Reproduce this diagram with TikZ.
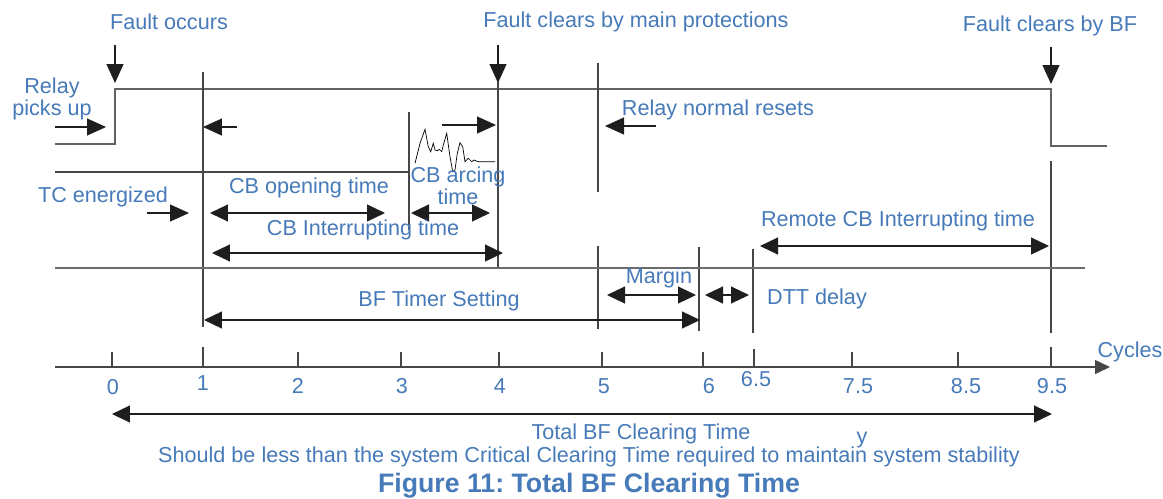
\documentclass[tikz,border=0pt]{standalone}
\usepackage{fontspec}
\setmainfont{Liberation Sans}
\usetikzlibrary{arrows.meta}
\definecolor{txtblue}{RGB}{70,122,184}
\definecolor{linegray}{RGB}{70,70,70}
\definecolor{tipblack}{RGB}{30,30,30}
\frenchspacing

\begin{document}
\begin{tikzpicture}[x=0.02cm,y=-0.02cm,
        lbl/.style={text=txtblue,font=\fontsize{12.3}{12.5}\selectfont,inner sep=0pt,align=center},
        sig/.style={draw=linegray,line width=0.6pt},
        tip/.style={draw=tipblack,line width=0.6pt,-{Triangle[length=0.38cm,width=0.34cm]}},
        both/.style={draw=tipblack,line width=0.6pt,{Triangle[length=0.36cm,width=0.34cm]}-{Triangle[length=0.36cm,width=0.34cm]}}]
            \useasboundingbox (0,0) rectangle (1163,498);

            % relay contact signal
            \coordinate (r0) at (55,144);
            \coordinate (rup) at (115,89);
            \coordinate (rdn) at (1051,89);
            \coordinate (r1) at (1107,146);
            \draw[sig,draw=linegray!85](r0)--(rup|-r0)--(rup)--(rdn)--(rdn|-r1)--(r1);

            % trip coil / arcing
            \coordinate (tc) at (55,172);
            \coordinate (arc) at (409,112);
            \draw[sig](tc)--(arc|-tc);
            \draw[sig](arc)--(409,230);
            \draw[black,line width=0.4pt](415,163.3)--(420,143.3)--(425,129.3)--(428.3,146.7)--(430.7,151.7)
                --(433.3,143.3)--(435,150)--(437.3,150.7)--(439.3,149.3)--(441.7,151.7)--(443.3,145)
                --(446.7,133.3)--(450,156.7)--(452.7,171.7)--(455,170)--(457.3,153.3)--(460,142.7)
                --(462.7,146.7)--(465,161.7)--(468.3,158.3)--(471.7,161.7)--(474,160)--(478.3,161.7)--(495,161.7);

            % vertical markers
            \draw[sig](203,72)--(203,327);
            \draw[sig](498,82)--(498,268);
            \draw[sig](598,63)--(598,192);
            \draw[sig](598,246)--(598,329);
            \draw[sig](699,247)--(699,331);
            \draw[sig](753,249)--(753,333);
            \draw[sig](1051,161)--(1051,333);
            \draw[sig,draw=linegray!80](55,268)--(1085,268);

            % events
            \node[lbl](fo) at (169,22){Fault occurs};
            \node[lbl](fm) at (636,22){Fault clears by main protections};
            \node[lbl](fb) at (1050,26){Fault clears by BF};
            \draw[tip](115,45)--(115,83);
            \draw[tip](498,45)--(498,83);
            \draw[tip](1051,47)--(1051,84);

            \node[lbl](rp) at (52,99){Relay\\picks up};
            \draw[tip](55,127)--(106,127);
            \draw[tip](237,127)--(203,127);
            \draw[tip](442,125)--(496,125);
            \node[lbl](rn) at (718,110){Relay normal resets};
            \draw[tip](656,126)--(605,126);

            \node[lbl](te) at (103,197){TC energized};
            \draw[tip](147,213)--(189,213);
            \node[lbl](co) at (309,188){CB opening time};
            \draw[both](210,213)--(385,213);
            \node[lbl](ca) at (458,186){CB arcing\\time};
            \draw[both](411,213)--(490,213);
            \node[lbl](ci) at (363,230){CB Interrupting time};
            \draw[both](212,253)--(503,253);
            \node[lbl](rc) at (898,221){Remote CB Interrupting time};
            \draw[both](760,246)--(1049,246);

            \node[lbl](mg) at (659,278){Margin};
            \draw[both](607,295)--(696,295);
            \draw[both](705,295)--(749,295);
            \node[lbl](dt) at (817,299){DTT delay};
            \node[lbl](bt) at (439,301){BF Timer Setting};
            \draw[both](204,320)--(700,320);

            % time axis
            \coordinate (ax0) at (55,367);
            \coordinate (ax1) at (1110,367);
            \draw[sig,line width=0.8pt,-{Triangle[length=0.3cm,width=0.28cm]}](ax0)--(ax1);
            \node[lbl](cy) at (1130,352){Cycles};
            \draw[sig](112,352)--(112,367);
            \draw[sig](203,347)--(203,367);
            \draw[sig](298,352)--(298,367);
            \draw[sig](401,352)--(401,367);
            \draw[sig](499,352)--(499,367);
            \draw[sig](602,352)--(602,367);
            \draw[sig](703,352)--(703,367);
            \draw[sig](754,349)--(754,367);
            \draw[sig](852,352)--(852,367);
            \draw[sig](958,352)--(958,367);
            \draw[sig](1051,347)--(1051,367);
            \node[lbl](l0) at (113,387){0};
            \node[lbl](l1) at (203,383){1};
            \node[lbl](l2) at (298,386){2};
            \node[lbl](l3) at (402,386){3};
            \node[lbl](l4) at (500,386){4};
            \node[lbl](l5) at (604,386){5};
            \node[lbl](l6) at (709,386){6};
            \node[lbl](l65) at (756,379){6.5};
            \node[lbl](l75) at (858,386){7.5};
            \node[lbl](l85) at (966,386){8.5};
            \node[lbl](l95) at (1052,386){9.5};

            % total
            \draw[both](112,414)--(1052,414);
            \node[lbl](tt) at (641,434){Total BF Clearing Time};
            \node[lbl](yy) at (862,440){y};
            \node[lbl](sb) at (589,457){Should be less than the system Critical Clearing Time required to maintain system stability};
            \node[lbl,font=\fontsize{15.2}{16}\selectfont\bfseries](fg) at (589,486){Figure 11: Total BF Clearing Time};

        \end{tikzpicture}
\end{document}
